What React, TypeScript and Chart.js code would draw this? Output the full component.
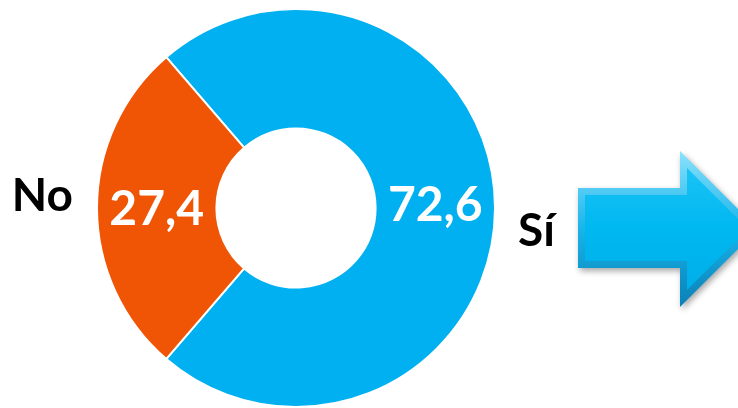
import React, { useEffect, useRef } from 'react';
import { Chart, registerables } from 'chart.js';

Chart.register(...registerables);

const categories = ['Sí', 'No'];
const values = [72.6, 27.4];
const valueLabels = ['72,6', '27,4'];
const colors = ['#00B0F0', '#F05405'];

const labelsPlugin = {
  id: 'sliceLabels',
  afterDatasetsDraw(chart: any) {
    const ctx = chart.ctx;
    const meta = chart.getDatasetMeta(0);
    ctx.save();
    meta.data.forEach((arc: any, i: number) => {
      const p = arc.getProps(['x', 'y', 'startAngle', 'endAngle', 'innerRadius', 'outerRadius'], true);
      const mid = (p.startAngle + p.endAngle) / 2;
      const r = (p.innerRadius + p.outerRadius) / 2;
      const x = p.x + Math.cos(mid) * r;
      const y = p.y + Math.sin(mid) * r;
      ctx.font = 'bold 48px Lato';
      ctx.fillStyle = '#ffffff';
      ctx.textAlign = 'center';
      ctx.textBaseline = 'alphabetic';
      ctx.fillText(valueLabels[i], x, y + (Math.cos(mid) >= 0 ? 13 : 17));
      // category labels
      ctx.font = 'bold 46px Lato';
      ctx.fillStyle = '#000000';
      if (Math.cos(mid) >= 0) {
        ctx.textAlign = 'left';
        ctx.fillText(categories[i], p.x + p.outerRadius + 23, p.y + 38);
      } else {
        ctx.textAlign = 'right';
        ctx.fillText(categories[i], p.x - p.outerRadius - 24, p.y + 3);
      }
    });
    ctx.restore();
  },
};

const arrowPlugin = {
  id: 'arrow',
  afterDraw(chart: any) {
    const ctx = chart.ctx;
    const outer = [
      [578, 188], [680, 188], [680, 151], [758, 229], [680, 307], [680, 268], [578, 268],
    ];
    const inner = [
      [585, 195], [687, 195], [687, 168], [748, 229], [687, 290], [687, 261], [585, 261],
    ];
    const path = (pts: number[][]) => {
      ctx.beginPath();
      pts.forEach((pt, k) => (k === 0 ? ctx.moveTo(pt[0], pt[1]) : ctx.lineTo(pt[0], pt[1])));
      ctx.closePath();
    };
    ctx.save();
    ctx.shadowColor = 'rgba(0,0,0,0.35)';
    ctx.shadowBlur = 6;
    ctx.shadowOffsetX = 2;
    ctx.shadowOffsetY = 3;
    const g1 = ctx.createLinearGradient(0, 151, 0, 307);
    g1.addColorStop(0, '#8AE2FC');
    g1.addColorStop(0.5, '#18B4EA');
    g1.addColorStop(1, '#0A80B6');
    ctx.fillStyle = g1;
    path(outer);
    ctx.fill();
    ctx.shadowColor = 'transparent';
    const g2 = ctx.createLinearGradient(0, 165, 0, 292);
    g2.addColorStop(0, '#1BC3F6');
    g2.addColorStop(0.5, '#00B8F0');
    g2.addColorStop(1, '#00AEE8');
    ctx.fillStyle = g2;
    path(inner);
    ctx.fill();
    ctx.restore();
  },
};

export default function App() {
  const ref = useRef<HTMLCanvasElement | null>(null);
  useEffect(() => {
    if (!ref.current) return;
    const chart = new Chart(ref.current, {
      type: 'doughnut',
      data: {
        labels: categories,
        datasets: [
          {
            data: values,
            backgroundColor: colors,
            borderColor: '#ffffff',
            borderWidth: 2,
          },
        ],
      },
      options: {
        responsive: false,
        animation: false,
        rotation: -40.7,
        cutout: '40%',
        layout: { padding: { left: 96, right: 242, top: 8, bottom: 0 } },
        plugins: {
          legend: { display: false },
          tooltip: { enabled: false },
        },
      },
      plugins: [labelsPlugin, arrowPlugin],
    });
    return () => chart.destroy();
  }, []);
  return (
    <div style={{ position: 'absolute', left: 0, top: 0, width: 738, height: 408, background: '#fff' }}>
      <canvas ref={ref} width={738} height={408} />
    </div>
  );
}
